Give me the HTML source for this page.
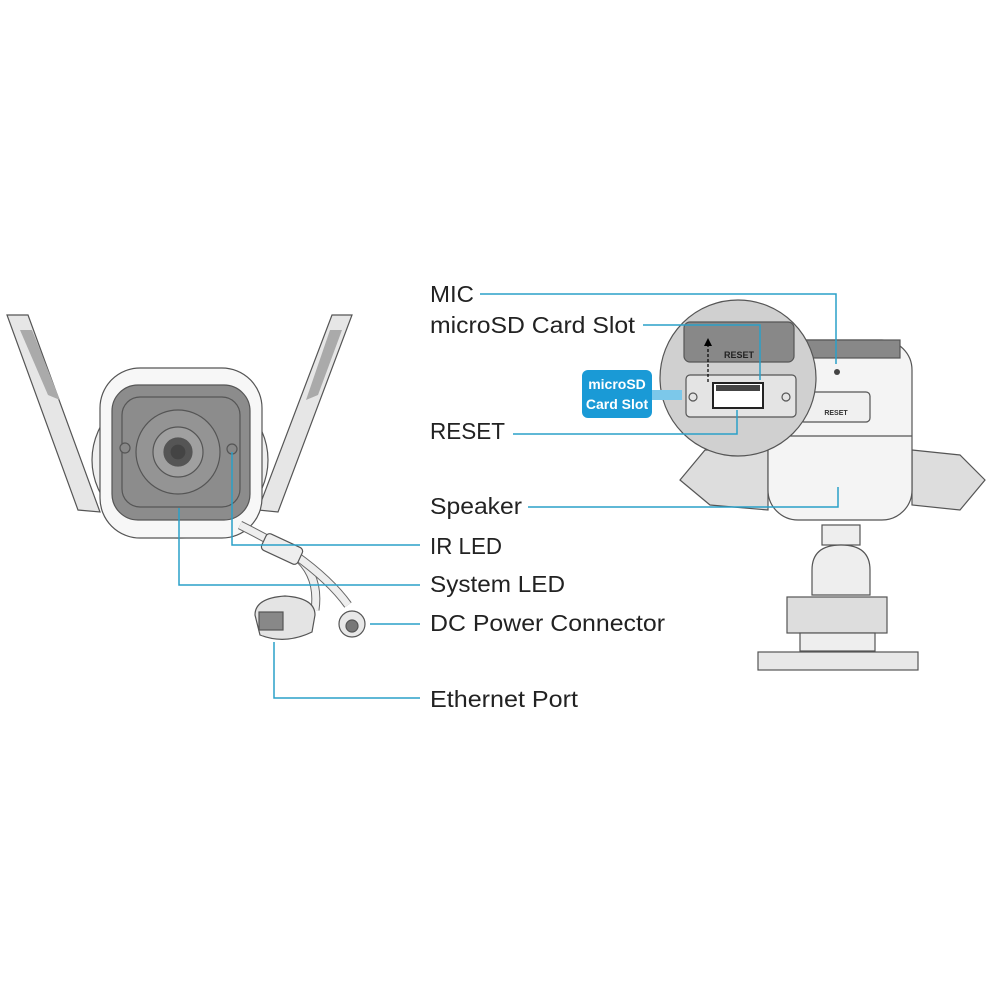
<!DOCTYPE html>
<html><head><meta charset="utf-8"><style>
html,body{margin:0;padding:0;background:#fff;}
svg{display:block}
text{font-family:"Liberation Sans",sans-serif;}
</style></head><body>
<svg width="1001" height="1001" viewBox="0 0 1001 1001" xmlns="http://www.w3.org/2000/svg">
<rect width="1001" height="1001" fill="#fff"/>
<g stroke="#555" stroke-width="1.2">
<!-- Left camera antennas -->
<polygon points="7,315 28,315 100,512 78,510" fill="#e6e6e6"/>
<polygon points="20,330 32,330 60,400 48,395" fill="#aaa" stroke="none"/>
<polygon points="332,315 352,315 278,512 258,510" fill="#e6e6e6"/>
<polygon points="330,330 342,330 318,395 306,400" fill="#aaa" stroke="none"/>
<!-- housing -->
<ellipse cx="180" cy="460" rx="88" ry="78" fill="#efefef"/>
<rect x="100" y="368" width="162" height="170" rx="40" fill="#f7f7f7"/>
<rect x="112" y="385" width="138" height="135" rx="26" fill="#8c8c8c"/>
<rect x="122" y="397" width="118" height="110" rx="18" fill="none" stroke="#555"/>
<circle cx="178" cy="452" r="42" fill="#949494"/>
<circle cx="178" cy="452" r="25" fill="#a0a0a0"/>
<circle cx="178" cy="452" r="14" fill="#555"/>
<circle cx="178" cy="452" r="8" fill="#444"/>
<circle cx="125" cy="448" r="5" fill="#888"/>
<circle cx="232" cy="449" r="5" fill="#888"/>
<!-- cables -->
<path d="M240,525 Q270,540 295,555 Q320,575 315,610" fill="none" stroke="#666" stroke-width="9"/>
<path d="M240,525 Q270,540 295,555 Q320,575 315,610" fill="none" stroke="#eee" stroke-width="7"/>
<path d="M295,555 Q330,580 348,605" fill="none" stroke="#666" stroke-width="9"/>
<path d="M295,555 Q330,580 348,605" fill="none" stroke="#eee" stroke-width="7"/>
<rect x="262" y="540" width="40" height="18" rx="4" fill="#eee" transform="rotate(25 282 549)"/>
<path d="M255,615 Q255,598 285,596 Q315,598 315,615 L312,632 Q285,645 260,635 Z" fill="#e4e4e4"/>
<rect x="259" y="612" width="24" height="18" fill="#888"/>
<circle cx="352" cy="624" r="13" fill="#e8e8e8"/>
<circle cx="352" cy="626" r="6" fill="#777"/>
<!-- Right camera -->
<polygon points="680,480 705,450 768,450 768,510 710,505" fill="#ddd"/>
<polygon points="912,450 960,455 985,480 960,510 912,505" fill="#ddd"/>
<rect x="768" y="340" width="144" height="180" rx="30" fill="#f4f4f4"/>
<rect x="790" y="340" width="110" height="18" fill="#888"/>
<line x1="768" y1="436" x2="912" y2="436"/>
<rect x="800" y="392" width="70" height="30" rx="4" fill="#f0f0f0"/>
<text x="836" y="415" font-size="7" text-anchor="middle" stroke="none" fill="#333" font-weight="bold">RESET</text>
<circle cx="837" cy="372" r="3" fill="#444" stroke="none"/>
<rect x="822" y="525" width="38" height="20" fill="#eee"/>
<path d="M812,595 L812,570 Q812,545 841,545 Q870,545 870,570 L870,595 Z" fill="#eee"/>
<rect x="787" y="597" width="100" height="36" fill="#ddd"/>
<rect x="800" y="633" width="75" height="18" fill="#eee"/>
<rect x="758" y="652" width="160" height="18" fill="#e8e8e8"/>
<!-- magnifier -->
<circle cx="738" cy="378" r="78" fill="#d0d0d0"/>
<rect x="684" y="322" width="110" height="40" rx="6" fill="#888"/>
<text x="739" y="358" font-size="9" text-anchor="middle" stroke="none" fill="#222" font-weight="bold">RESET</text>
<rect x="686" y="375" width="110" height="42" rx="4" fill="#e4e4e4"/>
<rect x="713" y="383" width="50" height="25" fill="#fff" stroke="#222" stroke-width="2"/>
<rect x="716" y="385" width="44" height="6" fill="#444" stroke="none"/>
<circle cx="693" cy="397" r="4" fill="none"/>
<circle cx="786" cy="397" r="4" fill="none"/>
<line x1="708" y1="382" x2="708" y2="345" stroke="#000" stroke-dasharray="3,2"/>
<polygon points="704,346 712,346 708,338" fill="#000" stroke="none"/>
</g>
<!-- microSD badge -->
<rect x="582" y="370" width="70" height="48" rx="6" fill="#1a9ad6"/>
<rect x="652" y="390" width="30" height="10" fill="#7cc8ea"/>
<text x="617" y="389" font-size="14" font-weight="bold" fill="#fff" text-anchor="middle">microSD</text>
<text x="617" y="409" font-size="14" font-weight="bold" fill="#fff" text-anchor="middle">Card Slot</text>
<!-- leader lines -->
<g fill="none" stroke="#2aa0c8" stroke-width="1.5">
<polyline points="480,294 836,294 836,364"/>
<polyline points="643,325 760,325 760,380"/>
<polyline points="513,434 737,434 737,410"/>
<polyline points="528,507 838,507 838,487"/>
<polyline points="232,452 232,545 420,545"/>
<polyline points="179,508 179,585 420,585"/>
<polyline points="370,624 420,624"/>
<polyline points="274,642 274,698 420,698"/>
</g>
<g font-size="23" fill="#222" lengthAdjust="spacingAndGlyphs">
<text x="430" y="302" textLength="44" lengthAdjust="spacingAndGlyphs">MIC</text>
<text x="430" y="333" textLength="205" lengthAdjust="spacingAndGlyphs">microSD Card Slot</text>
<text x="430" y="439" textLength="75" lengthAdjust="spacingAndGlyphs">RESET</text>
<text x="430" y="514" textLength="92" lengthAdjust="spacingAndGlyphs">Speaker</text>
<text x="430" y="554" textLength="72" lengthAdjust="spacingAndGlyphs">IR LED</text>
<text x="430" y="592" textLength="135" lengthAdjust="spacingAndGlyphs">System LED</text>
<text x="430" y="631" textLength="235" lengthAdjust="spacingAndGlyphs">DC Power Connector</text>
<text x="430" y="707" textLength="148" lengthAdjust="spacingAndGlyphs">Ethernet Port</text>
</g>
</svg>
</body></html>
